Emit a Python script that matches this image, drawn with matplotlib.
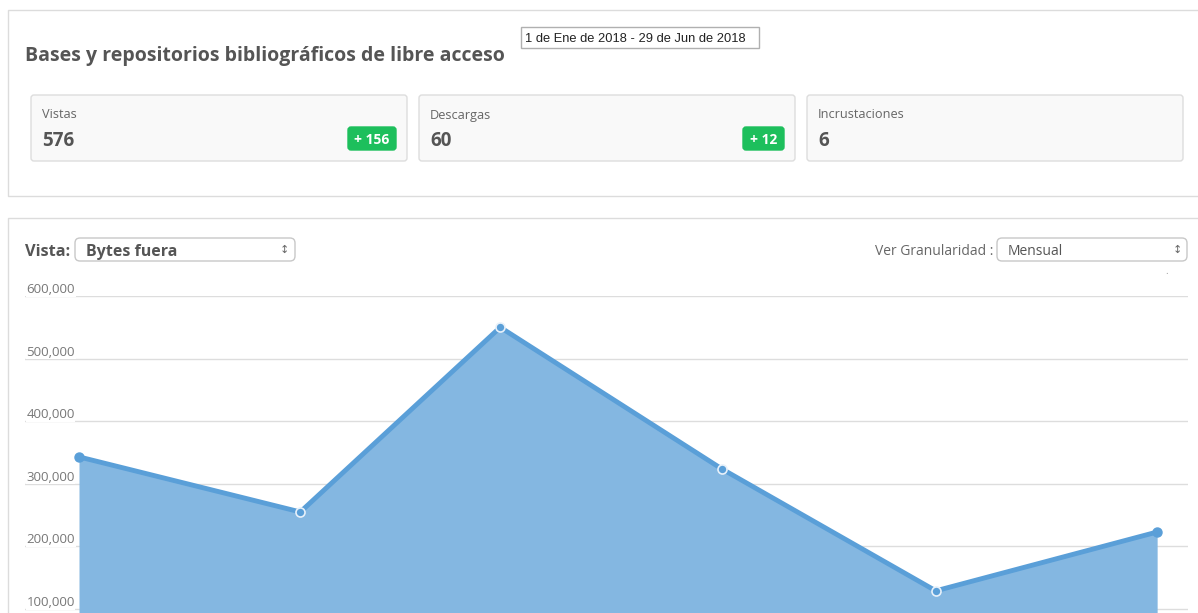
import numpy as np
import matplotlib
matplotlib.use("Agg")
from matplotlib import pyplot as plt
from matplotlib.patches import FancyBboxPatch, Rectangle

# data
months = ["2018-01-01", "2018-02-01", "2018-03-01", "2018-04-01", "2018-05-01", "2018-06-01"]
bytes_out = [343000, 255000, 550000, 324000, 129000, 223000]
yticks = [100000, 200000, 300000, 400000, 500000, 600000]

card_labels = ["Vistas", "Descargas", "Incrustaciones"]
card_values = ["576", "60", "6"]
card_badges = ["156", "12", None]

title = "Bases y repositorios bibliográficos de libre acceso"
date_range = "1 de Ene de 2018 - 29 de Jun de 2018"

W, H = 1198, 613
plt.rcParams["font.family"] = ["Open Sans", "DejaVu Sans"]

fig = plt.figure(figsize=(W / 100, H / 100), dpi=100)

# background layer in pixel coordinates
bg = fig.add_axes([0, 0, 1, 1])
bg.set_xlim(0, W)
bg.set_ylim(H, 0)
bg.axis("off")

def box(x0, y0, x1, y1, fc="white", ec="#dcdcdc", r=0, lw=1, z=1):
  if r:
    p = FancyBboxPatch((x0, y0), x1 - x0, y1 - y0, boxstyle="round,pad=0,rounding_size=%g" % r,
                       fc=fc, ec=ec, lw=lw, zorder=z)
  else:
    p = Rectangle((x0, y0), x1 - x0, y1 - y0, fc=fc, ec=ec, lw=lw, zorder=z)
  bg.add_patch(p)

# top panel
box(8, 10, 1205, 196)
bg.text(25, 55.5, title, fontsize=14, fontweight="bold", color="#555555", va="center")
box(521, 27, 759, 48, ec="#b0b0b0")
bg.text(525, 39, date_range, fontsize=9.3, family="Liberation Sans", color="#222222", va="center")

card_x = [31, 419, 807]
for i in range(3):
  x0 = card_x[i]
  box(x0, 95, x0 + 376, 161, fc="#f9f9f9", ec="#dddddd", r=3)
  bg.text(x0 + 11, 115, card_labels[i], fontsize=9.2, color="#666666", va="center")
  bg.text(x0 + 11, 141, card_values[i], fontsize=13.5, fontweight="bold", color="#555555", va="center")
  if card_badges[i]:
    bw = 48 if len(card_badges[i]) == 3 else 41
    bx1 = x0 + 365
    box(bx1 - bw, 127, bx1, 150, fc="#1dbf5c", ec="#1dbf5c", r=3, z=2)
    bg.text(bx1 - bw / 2, 139.5, "+ " + card_badges[i], fontsize=10, fontweight="bold",
            color="white", ha="center", va="center", zorder=3)

# lower panel
box(8, 218, 1205, 640)
bg.text(25, 251.5, "Vista:", fontsize=11.8, fontweight="bold", color="#555555", va="center")
box(75, 238, 295, 261, fc="white", ec="#c8c8c8", r=5)
bg.text(86, 251.5, "Bytes fuera", fontsize=11.5, fontweight="bold", color="#555555", va="center")
bg.text(284, 250, "\u2195", fontsize=8, color="#666666", ha="center", va="center", family="DejaVu Sans")
bg.text(993, 251.5, "Ver Granularidad :", fontsize=10, color="#666666", va="center", ha="right")
box(997, 238, 1187, 261, fc="white", ec="#c8c8c8", r=5)
bg.text(1008, 251.5, "Mensual", fontsize=10, color="#555555", va="center")
bg.text(1177, 250, "\u2195", fontsize=8, color="#666666", ha="center", va="center", family="DejaVu Sans")
bg.text(1167, 271, ".", fontsize=7, color="#999999", ha="center", va="center")

# chart
days = (np.array(months, dtype="datetime64[D]") - np.datetime64(months[0], "D")).astype(float)
px_per_day = 7.14
top_px, bot_px = 296, 613
ax = fig.add_axes([25 / W, 0, 1163 / W, (bot_px - top_px) / H])
ax.set_facecolor("none")
ax.set_xlim((25 - 79) / px_per_day, (1188 - 79) / px_per_day)
ax.set_ylim(100000 - 4 / 313 * 500000, 600000)
for s in ax.spines.values():
  s.set_visible(False)
ax.set_xticks([])
ax.set_yticks(yticks)
ax.tick_params(axis="y", length=0, labelleft=False)
ax.grid(axis="y", color="#dddddd", lw=1)
ax.set_axisbelow(True)

ax.fill_between(days, bytes_out, ax.get_ylim()[0], color="#84b7e1", lw=0, zorder=2)
ax.plot(days, bytes_out, color="#5a9fd8", lw=3.5, zorder=3, solid_joinstyle="round")
ax.plot(days[1:-1], bytes_out[1:-1], "o", ms=6.5, mfc="#5a9fd8", mec="#e8f1fa", mew=1.2, zorder=4)
ax.plot(days[[0, -1]], [bytes_out[0], bytes_out[-1]], "o", ms=6.5, mfc="#5a9fd8", mec="#5a9fd8", zorder=4)

for v in yticks:
  ax.annotate("{:,}".format(v), (0, v), xycoords=ax.get_yaxis_transform(), xytext=(1, 0),
              textcoords="offset points", fontsize=9.5, color="#777777", va="bottom", ha="left",
              bbox=dict(fc="white", ec="none", pad=0.5), zorder=1)

fig.savefig("out.png", dpi=100)
